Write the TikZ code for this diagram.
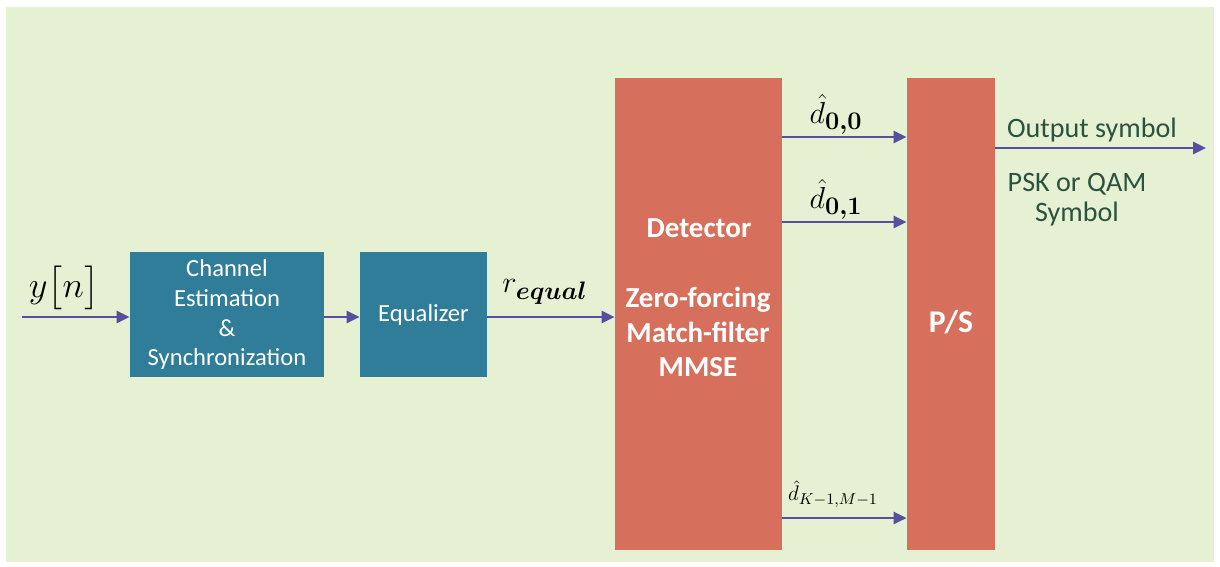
\documentclass[tikz,border=0pt]{standalone}
\usepackage{amsmath,bm}
\usepackage{fontspec}
\setmainfont{Carlito}
\usepackage{tikz}
\usetikzlibrary{arrows.meta,positioning}
\definecolor{bgreen}{RGB}{230,240,211}
\definecolor{tealbox}{RGB}{47,125,153}
\definecolor{salmon}{RGB}{214,112,92}
\definecolor{flowc}{RGB}{88,78,158}
\definecolor{txtgreen}{RGB}{42,82,62}
\tikzset{
  block/.style={fill=tealbox, text=white, align=center, inner sep=0pt, minimum height=2.5cm, font=\fontsize{14}{17}\selectfont},
  tall/.style={fill=salmon, inner sep=0pt, minimum height=9.44cm},
  wlabel/.style={text=white, font=\fontsize{16.5}{19.5}\selectfont\bfseries},
  flow/.style={flowc, line width=1.5pt, -{Triangle[length=2.6mm,width=2.4mm]}},
  mlabel/.style={font=\fontsize{19}{22}\selectfont}
}
\begin{document}
\begin{tikzpicture}[x=0.02cm, y=-0.02cm]
% page and background
\useasboundingbox (0,0) rectangle (1220,566);
\fill[bgreen] (6,7) rectangle (1214,562);
% blocks
\node[block, minimum width=3.88cm] (chan) at (227,314.5) {Channel\\Estimation\\\&\\Synchronization};
\node[block, minimum width=2.54cm] (eq) at (423.5,314.5) {Equalizer};
\node[tall, minimum width=3.34cm] (det) at (698.5,314) {};
\node[tall, minimum width=1.76cm] (ps) at (951,314) {};
\node[wlabel] (detname) at (699,228) {Detector};
\node[wlabel, align=center] (detkind) at (698,332) {Zero-forcing\\Match-filter\\MMSE};
\node[wlabel, font=\fontsize{18}{20}\selectfont\bfseries] (psname) at (951,322) {P/S};
% input chain
\coordinate (in) at (22,317);
\draw[flow] (in) -- (chan.west |- in);
\draw[flow] (chan.east |- in) -- (eq.west |- in);
\draw[flow] (eq.east |- in) -- (det.west |- in);
\node[mlabel, font=\fontsize{20}{22}\selectfont] (yn) at (64,288) {$y\big[n\big]$};
\node[mlabel] (req) at (545,292) {$r_{\bm{equal}}$};
% detector outputs
\foreach \yy/\nm in {137/d0, 222/d1, 518/dk} {
  \coordinate (\nm) at (782,\yy);
  \draw[flow] (det.east |- \nm) -- (ps.west |- \nm);
}
\node[mlabel] (l0) at (836,114) {$\hat{d}_{\bm{0,0}}$};
\node[mlabel] (l1) at (836,199) {$\hat{d}_{\bm{0,1}}$};
\node[mlabel, font=\fontsize{13}{16}\selectfont] (lk) at (833,494) {$\hat{d}_{K-1,M-1}$};
% output
\coordinate (out) at (1206,148);
\draw[flow] (ps.east |- out) -- (out);
\node[text=txtgreen, font=\fontsize{16}{19}\selectfont] (outlab) at (1092,130) {Output symbol};
\node[text=txtgreen, font=\fontsize{16}{17}\selectfont, align=center] (symlab) at (1077,200) {PSK or QAM\\Symbol};
\end{tikzpicture}
\end{document}
